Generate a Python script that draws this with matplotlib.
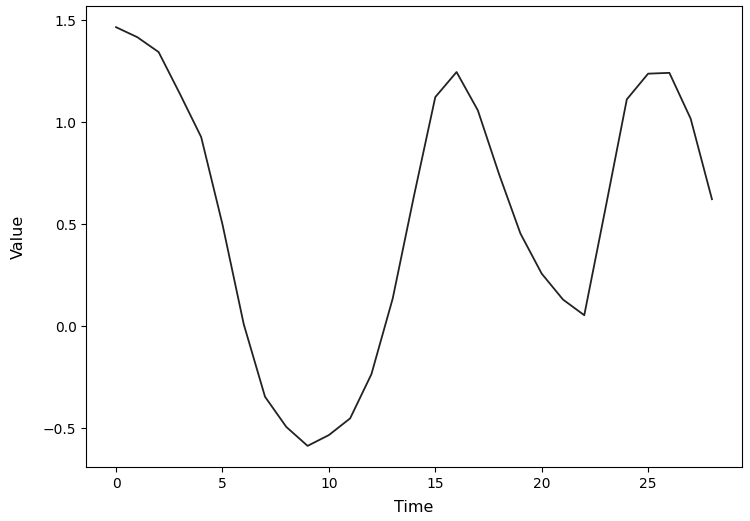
import matplotlib
matplotlib.use("Agg")
import matplotlib.pyplot as plt

time = list(range(29))
values = [1.467, 1.418, 1.345, 1.14, 0.928, 0.50, 0.01, -0.346, -0.494, -0.587,
          -0.534, -0.452, -0.235, 0.136, 0.64, 1.124, 1.247, 1.059, 0.745, 0.455,
          0.258, 0.131, 0.054, 0.58, 1.113, 1.239, 1.243, 1.018, 0.623]

fig, ax = plt.subplots(figsize=(7.5, 5.21), dpi=100)
ax.plot(time, values, color="#222222", linewidth=1.3)
ax.set_xlabel("Time", fontsize=11.5, labelpad=7)
ax.set_ylabel("Value", fontsize=11.5, labelpad=12)
fig.subplots_adjust(left=0.115, right=0.989, top=0.988, bottom=0.104)
fig.savefig("out.png", dpi=100)
